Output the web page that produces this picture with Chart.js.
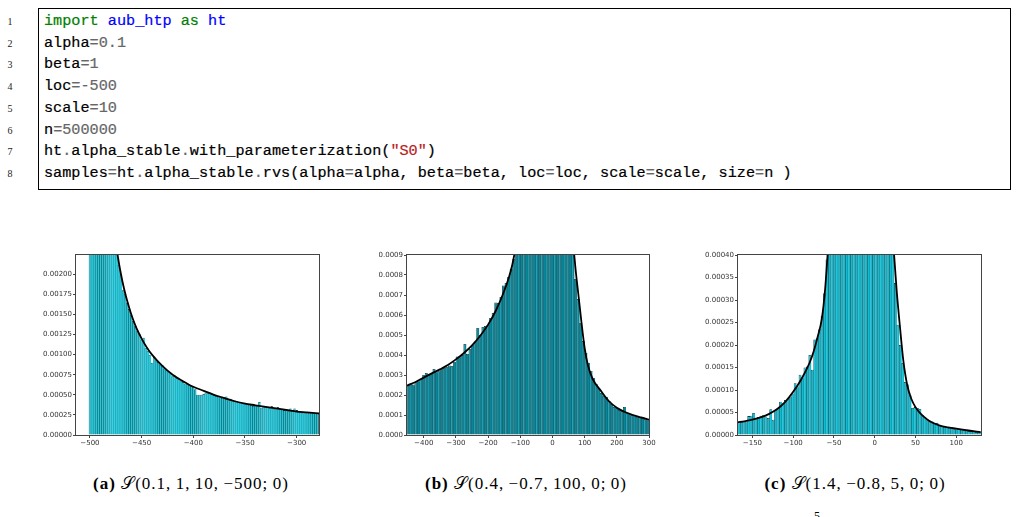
<!DOCTYPE html>
<html>
<head>
<meta charset="utf-8">
<script src="https://cdn.jsdelivr.net/npm/chart.js@4/dist/chart.umd.min.js"></script>
<style>
  body { margin: 0; width: 1019px; height: 517px; background: #fff; position: relative; overflow: hidden; }
  #lineno { position: absolute; left: 0; top: 11px; width: 20px; text-align: center; font: 10px 'Liberation Serif'; line-height: 21.7px; color: #222; }
  #code { position: absolute; left: 38px; top: 8px; width: 973px; height: 182px; border: 1px solid #000; box-sizing: border-box; }
  #code pre { margin: 0; padding: 2px 0 0 5px; font: 15.2px 'Liberation Mono'; line-height: 21.7px; color: #000; -webkit-text-stroke: 0.2px; }
  .k { color: #008000; } .n { color: #0000ff; } .o { color: #666; } .s { color: #ba2121; }
  canvas { position: absolute; }
  .cap { position: absolute; top: 474px; width: 300px; text-align: center; font: 17px 'Liberation Serif'; letter-spacing: 1px; color: #000; }
</style>
</head>
<body>
<div id="lineno">1<br>2<br>3<br>4<br>5<br>6<br>7<br>8</div>
<div id="code"><pre><span class="k">import</span> <span class="n">aub_htp</span> <span class="k">as</span> <span class="n">ht</span>
alpha<span class="o">=0.1</span>
beta<span class="o">=1</span>
loc<span class="o">=-500</span>
scale<span class="o">=10</span>
n<span class="o">=500000</span>
ht<span class="o">.</span>alpha_stable<span class="o">.</span>with_parameterization(<span class="s">"S0"</span>)
samples<span class="o">=</span>ht<span class="o">.</span>alpha_stable<span class="o">.</span>rvs(alpha<span class="o">=</span>alpha, beta<span class="o">=</span>beta, loc<span class="o">=</span>loc, scale<span class="o">=</span>scale, size<span class="o">=</span>n )</pre></div>

<canvas id="histA" width="300" height="215" style="left:30px; top:244px"></canvas>
<canvas id="histB" width="300" height="215" style="left:360px; top:244px"></canvas>
<canvas id="histC" width="310" height="215" style="left:690px; top:244px"></canvas>

<div class="cap" style="left:41px"><b>(a)</b> 𝒮(0.1,&thinsp;1,&thinsp;10,&thinsp;−500;&thinsp;0)</div>
<div class="cap" style="left:376px"><b>(b)</b> 𝒮(0.4,&thinsp;−0.7,&thinsp;100,&thinsp;0;&thinsp;0)</div>
<div class="cap" style="left:705px"><b>(c)</b> 𝒮(1.4,&thinsp;−0.8,&thinsp;5,&thinsp;0;&thinsp;0)</div>
<div style="position:absolute; left:814px; top:509px; font:12px 'Liberation Serif'">5</div>

<script>
// (a) alpha=0.1, beta=1, scale=10, loc=-500 -- densities in units of 1e-6
const aBinStart = -500, aBinWidth = 2;
const aDensity = [
  3000, 3000, 3000, 3000, 3000, 3000, 3000, 3000, 3000, 3000,
  3000, 3000, 3000, 3000, 2120, 2000, 1800, 1760, 1650, 1570,
  1500, 1420, 1360, 1300, 1260, 1190, 1210, 1080, 1050, 1000,
  900, 970, 930, 910, 880, 870, 830, 810, 790, 770,
  730, 740, 710, 700, 670, 660, 640, 640, 630, 620,
  600, 570, 500, 500, 500, 510, 530, 520, 520, 510,
  500, 490, 480, 470, 460, 470, 480, 440, 450, 430,
  430, 420, 410, 410, 400, 400, 390, 380, 380, 360,
  370, 370, 410, 340, 360, 350, 350, 340, 360, 320,
  340, 350, 320, 320, 310, 310, 300, 330, 310, 330,
  310, 300, 290, 280, 290, 280, 280, 280, 270, 270,
  270, 260
];
const aCurveX = [-476, -473, -470, -467, -464, -460, -455, -450, -445, -440, -430, -420, -410, -400, -390, -380, -370, -360, -350, -340, -330, -320, -310, -300, -290, -278];
const aCurveY = [2500, 2220, 2000, 1820, 1670, 1500, 1330, 1200, 1090, 1000, 860, 750, 670, 600, 550, 500, 460, 420, 390, 370, 350, 330, 312, 292, 282, 268];
const aXTicks = [-500, -450, -400, -350, -300];
const aYTicks = [0, 0.00025, 0.0005, 0.00075, 0.001, 0.00125, 0.0015, 0.00175, 0.002];

// (b) alpha=0.4, beta=-0.7, scale=100, loc=0
const bBinStart = -448, bBinWidth = 8;
const bDensity = [
  250, 258, 252, 268, 272, 282, 300, 310, 300, 305,
  330, 318, 322, 330, 335, 340, 348, 345, 365, 392,
  392, 400, 455, 405, 430, 450, 468, 535, 500, 540,
  545, 550, 585, 610, 662, 660, 690, 748, 760, 790,
  830, 880, 1200, 1200, 1200, 1200, 1200, 1200, 1200, 1200,
  1200, 1200, 1200, 1200, 1200, 1200, 1200, 1200, 1200, 1200,
  1200, 1200, 1200, 1200, 1200, 780, 680, 560, 470, 410,
  360, 320, 285, 255, 235, 210, 195, 190, 170, 155,
  140, 135, 125, 120, 140, 110, 105, 100, 97, 92,
  90, 86, 82, 78
];
const bCurveX = [-452, -425, -400, -375, -350, -325, -300, -275, -250, -225, -200, -175, -150, -135, -125, -115, -105, -80, -40, 0, 40, 60, 65, 70, 75, 80, 90, 100, 110, 125, 150, 175, 200, 225, 250, 275, 300];
const bCurveY = [247, 265, 287, 308, 328, 350, 378, 410, 448, 495, 552, 625, 720, 790, 850, 930, 1010, 1200, 1400, 1500, 1400, 1150, 960, 860, 780, 710, 565, 435, 350, 280, 222, 170, 136, 115, 100, 88, 77];
const bXTicks = [-400, -300, -200, -100, 0, 100, 200, 300];
const bYTicks = [0, 0.0001, 0.0002, 0.0003, 0.0004, 0.0005, 0.0006, 0.0007, 0.0008, 0.0009];

// (c) alpha=1.4, beta=-0.8, scale=5, loc=0
const cBinStart = -166.5, cBinWidth = 3;
const cDensity = [
  28, 29, 31, 30, 42, 43, 49, 38, 40, 43,
  44, 41, 38, 57, 34, 56, 60, 74, 70, 78,
  80, 85, 92, 115, 108, 134, 128, 150, 152, 178,
  145, 212, 215, 235, 265, 315, 390, 600, 600, 600,
  600, 600, 600, 600, 600, 600, 600, 600, 600, 600,
  600, 600, 600, 600, 600, 600, 600, 600, 600, 600,
  600, 600, 600, 600, 338, 245, 200, 160, 118, 112,
  88, 60, 62, 60, 58, 44, 40, 35, 32, 30,
  27, 27, 21, 20, 19, 17, 16, 17, 16, 13,
  13, 12, 11, 10, 9, 9, 8, 7, 7, 6
];
const cCurveX = [-168, -160, -150, -140, -130, -120, -110, -100, -90, -80, -75, -70, -65, -61, -58, -55, -40, -20, 0, 15, 21, 24, 27, 31, 35, 40, 45, 50, 56, 62, 68, 80, 90, 100, 115, 130];
const cCurveY = [28.5, 30.5, 34, 39, 46.5, 57, 73, 96, 124, 160, 185, 218, 257, 320, 395, 480, 700, 800, 700, 520, 470, 395, 320, 240, 167, 110, 80, 62, 48, 38, 30, 21, 17, 14, 10, 6.6];
const cXTicks = [-150, -100, -50, 0, 50, 100];
const cYTicks = [0, 0.00005, 0.0001, 0.00015, 0.0002, 0.00025, 0.0003, 0.00035, 0.0004];

// box around the plot area, like matplotlib spines
const frame = {
  id: 'frame',
  afterDraw(chart) {
    const a = chart.chartArea, ctx = chart.ctx;
    ctx.save();
    ctx.strokeStyle = '#444';
    ctx.lineWidth = 1;
    ctx.strokeRect(Math.round(a.left) - 0.5, Math.round(a.top) - 0.5,
                   Math.round(a.right - a.left) + 1, Math.round(a.bottom - a.top) + 1);
    ctx.restore();
  }
};

function drawHist(id, o) {
  const bars = o.density.map((v, i) => ({ x: o.start + i * o.width, y: v * 1e-6 }));
  const curve = o.curveX.map((x, i) => ({ x: x, y: o.curveY[i] * 1e-6 }));
  const tickFont = { family: 'DejaVu Sans', size: 7 };

  new Chart(document.getElementById(id), {
    type: 'bar',
    data: {
      datasets: [
        { type: 'line', data: curve, borderColor: '#000', borderWidth: 1.8, pointRadius: 0,
          cubicInterpolationMode: 'monotone', order: 0 },
        // bars a bit wider than the bin so that neighbours overlap and no light seams show
        { data: bars, backgroundColor: o.color, borderColor: '#083a42',
          borderWidth: { left: 0.8, top: 0.8, right: 0, bottom: 0 }, borderSkipped: false,
          categoryPercentage: 1, barPercentage: 1.2, order: 1 }
      ]
    },
    options: {
      responsive: false,
      animation: false,
      devicePixelRatio: 1,
      layout: { padding: { left: 0, right: o.padR, top: 11, bottom: 0 } },
      plugins: { legend: { display: false }, tooltip: { enabled: false } },
      scales: {
        x: {
          type: 'linear', min: o.xMin, max: o.xMax, offset: false,
          grid: { offset: false, drawOnChartArea: false, tickLength: 3, color: '#444' },
          border: { display: false },
          afterBuildTicks: s => { s.ticks = o.xTicks.map(v => ({ value: v })); },
          afterFit: s => { s.height = 24; },
          ticks: { autoSkip: false, maxRotation: 0, padding: 1, color: '#333', font: tickFont,
                   callback: v => String(v).replace('-', '\u2212') }
        },
        y: {
          min: 0, max: o.yMax,
          grid: { drawOnChartArea: false, tickLength: 3, color: '#444' },
          border: { display: false },
          afterBuildTicks: s => { s.ticks = o.yTicks.map(v => ({ value: v })); },
          afterFit: s => { s.width = o.yW; },
          ticks: { padding: 1, color: '#333', font: tickFont, callback: v => v.toFixed(o.dec) }
        }
      }
    },
    plugins: [frame]
  });
}

drawHist('histA', { density: aDensity, start: aBinStart, width: aBinWidth, curveX: aCurveX, curveY: aCurveY,
  xTicks: aXTicks, yTicks: aYTicks, xMin: -513.5, xMax: -278.4, yMax: 0.00224, dec: 5,
  yW: 46, padR: 11, color: '#12cfe4' });
drawHist('histB', { density: bDensity, start: bBinStart, width: bBinWidth, curveX: bCurveX, curveY: bCurveY,
  xTicks: bXTicks, yTicks: bYTicks, xMin: -452, xMax: 300, yMax: 0.0009, dec: 4,
  yW: 47, padR: 11, color: '#078699' });
drawHist('histC', { density: cDensity, start: cBinStart, width: cBinWidth, curveX: cCurveX, curveY: cCurveY,
  xTicks: cXTicks, yTicks: cYTicks, xMin: -167.7, xMax: 130.4, yMax: 0.0004, dec: 5,
  yW: 48, padR: 19, color: '#10bcd2' });
</script>
</body>
</html>
